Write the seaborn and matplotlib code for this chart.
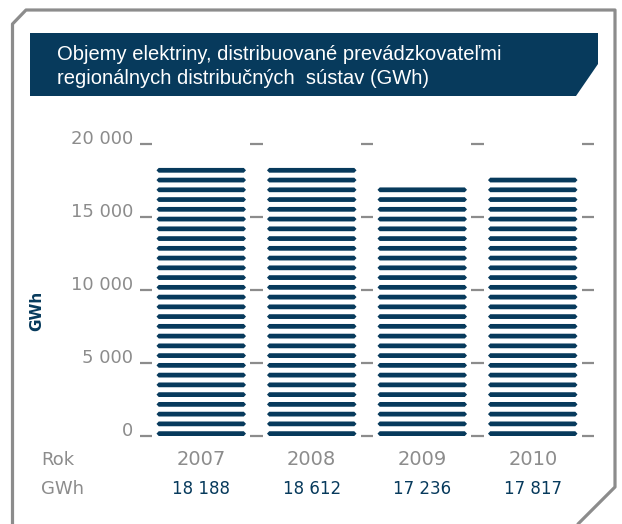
import numpy as np
import seaborn as sns
from matplotlib import pyplot as plt
from matplotlib.patches import Polygon
from matplotlib.lines import Line2D

# data
years = ["2007", "2008", "2009", "2010"]
gwh = [18188, 18612, 17236, 17817]
gwh_labels = ["18 188", "18 612", "17 236", "17 817"]
y_ticks = [0, 5000, 10000, 15000, 20000]
y_tick_labels = ["0", "5 000", "10 000", "15 000", "20 000"]

title_lines = ["Objemy elektriny, distribuované prevádzkovateľmi",
               "regionálnych distribučných  sústav (GWh)"]

NAVY = "#073a5c"
GREY = "#8c8c8c"
W, H = 622, 524


def fx(px):
    return px / W


def fy(py):
    return 1 - py / H


def draw_stripes(ax, pitch=668, thick=325, tip=0.02):
    """Turn each seaborn bar into a stack of thin stripes with pointed ends."""
    for bar in list(ax.patches):
        x0 = bar.get_x()
        x1 = x0 + bar.get_width()
        n = int(np.ceil(bar.get_height() / pitch))
        for k in range(n):
            b = k * pitch
            t = b + thick
            m = (b + t) / 2
            pts = [(x0, m), (x0 + tip, t), (x1 - tip, t), (x1, m),
                   (x1 - tip, b), (x0 + tip, b)]
            ax.add_patch(Polygon(pts, closed=True, facecolor=NAVY,
                                 edgecolor="none", zorder=3))
        bar.set_visible(False)


def main():
    sns.set_style("white")
    plt.rcParams['font.family'] = ['DejaVu Sans']

    fig = plt.figure(figsize=(W / 100, H / 100), dpi=100)
    ax = fig.add_axes([fx(146), fy(436), (588 - 146) / W, (436 - 144) / H])

    # bars (seaborn gives the positions, then each one is cut into stripes)
    sns.barplot(x=years, y=gwh, color=NAVY, saturation=1, width=0.81, ax=ax)
    draw_stripes(ax)
    ax.set_xlim(-0.5, 3.5)
    ax.set_ylim(0, 20000)

    # dash "grid" marks
    for yv in y_ticks:
        for xc in np.arange(-0.5, 4, 1):
            ax.plot([xc - 0.055, xc + 0.055], [yv, yv], color=GREY, lw=1.6,
                    clip_on=False, zorder=5, solid_capstyle="butt")

    for yv, lab in zip(y_ticks, y_tick_labels):
        ax.text(-0.615, yv, lab, ha="right", va="baseline", color=GREY,
                fontsize=13)

    ax.set_xticks([])
    ax.set_yticks([])
    ax.set_xlabel("")
    sns.despine(ax=ax, left=True, bottom=True)

    # bottom table
    for i, (yr, lab) in enumerate(zip(years, gwh_labels)):
        ax.text(i, -0.082, yr, transform=ax.get_xaxis_transform(),
                ha="center", va="center", color=GREY, fontsize=14)
        ax.text(i, -0.182, lab, transform=ax.get_xaxis_transform(),
                ha="center", va="center", color=NAVY, fontsize=12)
    fig.text(fx(41), fy(460), "Rok", ha="left", va="center", color=GREY,
             fontsize=13)
    fig.text(fx(41), fy(489), "GWh", ha="left", va="center", color=GREY,
             fontsize=13)

    fig.text(fx(37), fy(311), "GWh", rotation=90, ha="center", va="center",
             color=NAVY, fontsize=11, fontweight="bold")

    # title box
    box = [(30, 33), (598, 33), (598, 64), (576, 96), (30, 96)]
    fig.patches.append(Polygon([(fx(x), fy(y)) for x, y in box], closed=True,
                               transform=fig.transFigure, facecolor=NAVY,
                               edgecolor="none"))
    title_font = ['Liberation Sans', 'DejaVu Sans']
    fig.text(fx(57), fy(55), title_lines[0], ha="left", va="center",
             color="white", fontsize=14.5, family=title_font)
    fig.text(fx(57), fy(78), title_lines[1], ha="left", va="center",
             color="white", fontsize=14.5, family=title_font)

    # outer frame with cut corners
    frame = [(12.5, 524), (12.5, 24), (26, 10), (615, 10), (615, 487), (578, 524)]
    fig.lines.append(Line2D([fx(x) for x, _ in frame], [fy(y) for _, y in frame],
                            transform=fig.transFigure, color=GREY, lw=2.3))

    fig.savefig("out.png", dpi=100)
    plt.close(fig)


if __name__ == '__main__':
    main()
